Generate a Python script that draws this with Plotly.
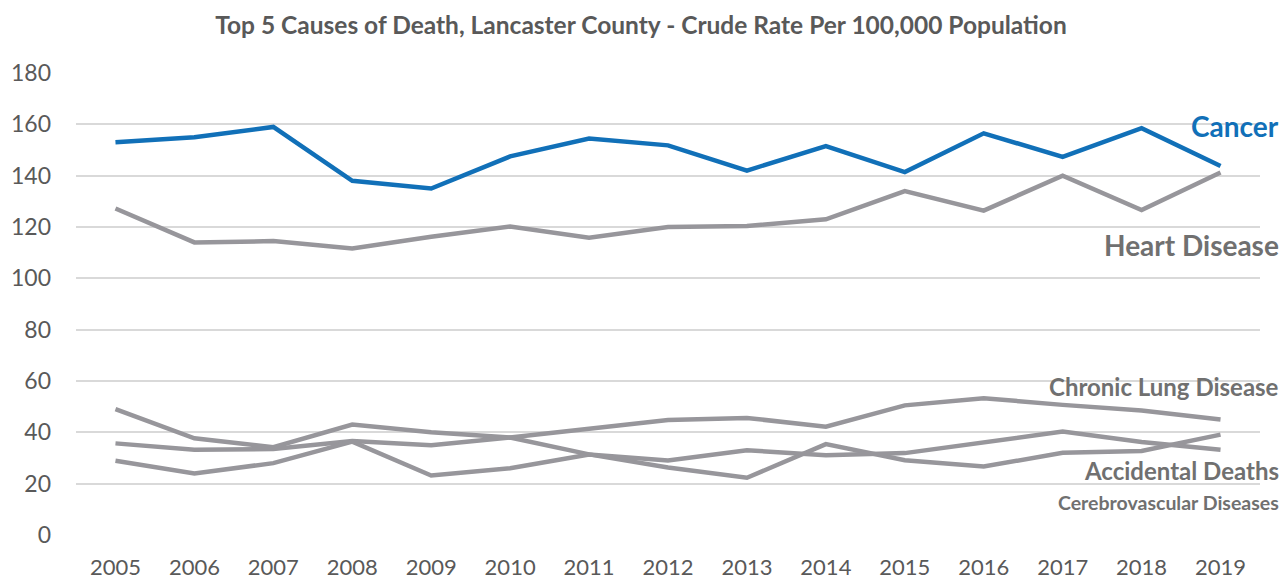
import plotly.graph_objects as go

years = [str(y) for y in range(2005, 2020)]
cancer = [153, 155, 159, 138, 135, 147.5, 154.5, 151.8, 142, 151.5, 141.4, 156.5, 147.3, 158.5, 143.8]
heart = [127.2, 114, 114.5, 111.6, 116.2, 120.2, 115.8, 120, 120.4, 123, 134, 126.4, 140, 126.6, 141.2]
chronic_lung = [49, 37.7, 34.2, 43, 40, 38, 41.4, 44.8, 45.6, 42.2, 50.5, 53.3, 50.7, 48.5, 45]
accidental = [35.7, 33.2, 33.5, 36.6, 35, 38, 31.4, 26.3, 22.3, 35.4, 29.1, 26.7, 32, 32.7, 39.1]
cerebro = [28.9, 24, 28, 36.4, 23.2, 26, 31.4, 29, 33, 31.1, 31.9, 36.3, 40.3, 36.2, 33.2]
y_ticks = [0, 20, 40, 60, 80, 100, 120, 140, 160, 180]

BLUE = "#1170B8"
GRAY = "#97969B"
FONT = "Lato"

fig = go.Figure()
for name, vals, col in [
    ("Heart Disease", heart, GRAY),
    ("Chronic Lung Disease", chronic_lung, GRAY),
    ("Accidental Deaths", accidental, GRAY),
    ("Cerebrovascular Diseases", cerebro, GRAY),
    ("Cancer", cancer, BLUE),
]:
    fig.add_trace(go.Scatter(x=years, y=vals, name=name, mode="lines",
                             line=dict(color=col, width=4.5)))

W, H = 1284, 579
L, R, T, B = 76, 24, 73, 44
pw = W - L - R

def px_to_paper(xpx):
    return (xpx - L) / pw

labels = [
    ("Cancer", 159.5, BLUE, 28),
    ("Heart Disease", 113, "#707070", 28),
    ("Chronic Lung Disease", 58, "#707070", 24),
    ("Accidental Deaths", 25, "#707070", 24),
    ("Cerebrovascular Diseases", 12.7, "#707070", 19.5),
]
for text, yv, col, sz in labels:
    fig.add_annotation(x=px_to_paper(1281), xref="paper", y=yv, yref="y",
                       text=f"<b>{text}</b>", showarrow=False, xanchor="right",
                       yanchor="middle", font=dict(family=FONT, size=sz, color=col))

fig.update_layout(
    width=W, height=H,
    margin=dict(l=L, r=R, t=T, b=B, autoexpand=False),
    paper_bgcolor="white", plot_bgcolor="white",
    showlegend=False,
    title=dict(text="<b>Top 5 Causes of Death, Lancaster County - Crude Rate Per 100,000 Population</b>",
               x=(214 + 1068) / 2 / W, xanchor="center", y=1 - 25 / H, yanchor="middle",
               xref="container", yref="container",
               font=dict(family=FONT, size=24.5, color="#595959")),
    font=dict(family=FONT, color="#595959"),
)
fig.update_xaxes(type="category", range=[-0.5, 14.5], showgrid=False, showline=False,
                 zeroline=False, automargin=False,
                 tickfont=dict(family=FONT, size=22, color="#595959"),
                 ticks="", ticklabelstandoff=17)
fig.update_yaxes(range=[0, 180], tickvals=y_ticks, showgrid=True, gridcolor="#D9D9D9",
                 gridwidth=1.5, zeroline=False, showline=False, automargin=False,
                 tickfont=dict(family=FONT, size=23, color="#595959"),
                 ticks="", ticklabelstandoff=24)

fig.write_html("out.html", config={"displayModeBar": False},
               post_script="document.body.style.margin='0px';document.body.style.overflow='hidden';")
